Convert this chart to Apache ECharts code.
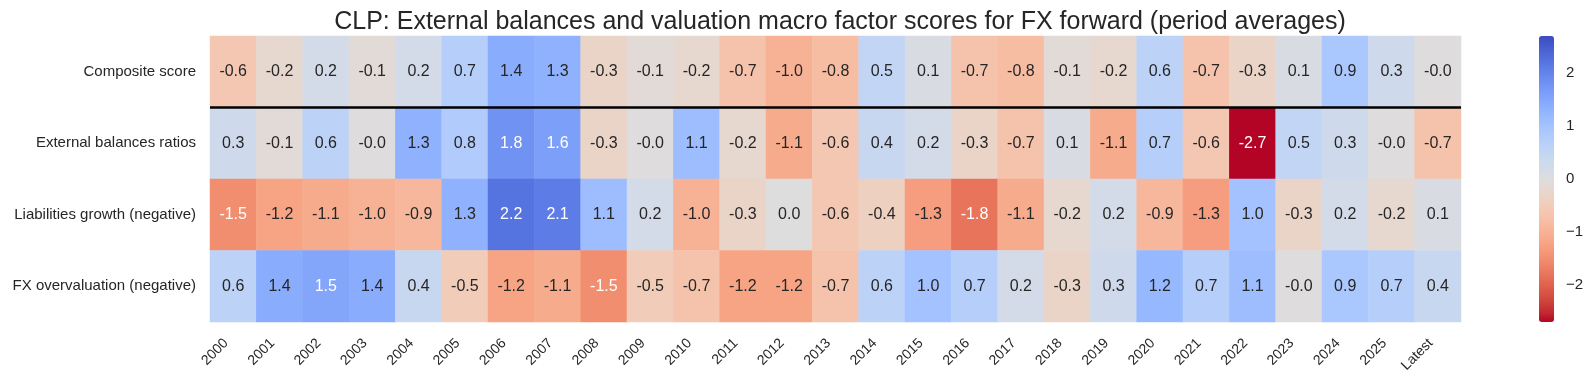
<!DOCTYPE html>
<html>
<head>
<meta charset="utf-8">
<script src="https://cdn.jsdelivr.net/npm/echarts@6/dist/echarts.min.js"></script>
<style>
html,body{margin:0;padding:0;background:#fff;}
#c{width:1594px;height:384px;}
</style>
</head>
<body>
<div id="c"></div>
<script>
const years = ['2000','2001','2002','2003','2004','2005','2006','2007','2008','2009','2010','2011','2012','2013','2014','2015','2016','2017','2018','2019','2020','2021','2022','2023','2024','2025','Latest'];
const rows = ['Composite score','External balances ratios','Liabilities growth (negative)','FX overvaluation (negative)'];
const composite   = [-0.6,-0.2,0.2,-0.1,0.2,0.7,1.4,1.3,-0.3,-0.1,-0.2,-0.7,-1.0,-0.8,0.5,0.1,-0.7,-0.8,-0.1,-0.2,0.6,-0.7,-0.3,0.1,0.9,0.3,-0.02];
const external    = [0.3,-0.1,0.6,-0.02,1.3,0.8,1.8,1.6,-0.3,-0.02,1.1,-0.2,-1.1,-0.6,0.4,0.2,-0.3,-0.7,0.1,-1.1,0.7,-0.6,-2.69,0.5,0.3,-0.02,-0.7];
const liabilities = [-1.5,-1.2,-1.1,-1.0,-0.9,1.3,2.2,2.1,1.1,0.2,-1.0,-0.3,0.0,-0.6,-0.4,-1.3,-1.8,-1.1,-0.2,0.2,-0.9,-1.3,1.0,-0.3,0.2,-0.2,0.1];
const fxOver      = [0.6,1.4,1.5,1.4,0.4,-0.5,-1.2,-1.1,-1.5,-0.5,-0.7,-1.2,-1.2,-0.7,0.6,1.0,0.7,0.2,-0.3,0.3,1.2,0.7,1.1,-0.02,0.9,0.7,0.4];
const colorbarTicks = [-2,-1,0,1,2];
const vmin = -2.69, vmax = 2.69;

// coolwarm control points (matplotlib), reversed for coolwarm_r
const coolwarm = [[59,76,192],[68,90,204],[77,104,215],[87,117,225],[98,130,234],[108,142,241],[119,154,247],[130,165,251],[141,176,254],[152,185,255],[163,194,255],[174,201,253],[184,208,249],[194,213,244],[204,217,238],[213,219,230],[221,221,221],[229,216,209],[236,211,197],[241,204,185],[245,196,173],[247,187,160],[247,177,148],[247,166,135],[244,154,123],[241,141,111],[236,127,99],[229,112,88],[222,96,77],[213,80,66],[203,62,56],[192,40,47],[180,4,38]];
const cmapR = coolwarm.slice().reverse(); // index 0 = low (red)
function cmap(v){
  let t = (v - vmin)/(vmax - vmin); t = Math.max(0, Math.min(1, t));
  const p = t*(cmapR.length-1); const i = Math.min(Math.floor(p), cmapR.length-2); const f = p - i;
  return cmapR[i].map((c,k)=> c + (cmapR[i+1][k]-c)*f);
}
function lum(rgb){
  const l = rgb.map(c=>{c/=255; return c<=0.03928? c/12.92 : Math.pow((c+0.055)/1.055,2.4);});
  return 0.2126*l[0]+0.7152*l[1]+0.0722*l[2];
}
const series = [composite, external, liabilities, fxOver];
const data = [];
series.forEach((arr, r) => arr.forEach((v, c) => {
  const dark = lum(cmap(v)) < 0.408;
  data.push({value:[c, r, v], label:{color: dark ? '#ffffff' : '#262626'}});
}));
const font = 'Liberation Sans, Arial, sans-serif';
const chart = echarts.init(document.getElementById('c'), null, {renderer:'canvas'});
const GRID = {left:210, right:133, top:36, bottom:62};
chart.setOption({
  animation:false,
  backgroundColor:'#ffffff',
  title:{text:'CLP: External balances and valuation macro factor scores for FX forward (period averages)', left:835, textAlign:'center', top:5, textStyle:{fontFamily:font, fontSize:25, fontWeight:'normal', color:'#262626'}},
  grid:[GRID, {left:1539, width:15, top:36, bottom:62}],
  xAxis:[
    {type:'category', data:years, gridIndex:0, axisLine:{show:false}, axisTick:{show:false}, splitLine:{show:false},
     axisLabel:{rotate:45, interval:0, fontFamily:font, fontSize:14, color:'#262626', margin:12, padding:[0,10,0,0]}},
    {type:'value', gridIndex:1, show:false, min:0, max:1}
  ],
  yAxis:[
    {type:'category', data:rows, inverse:true, gridIndex:0, axisLine:{show:false}, axisTick:{show:false}, splitLine:{show:false},
     axisLabel:{fontFamily:font, fontSize:15, color:'#262626', margin:14}},
    {type:'value', gridIndex:1, position:'right', min:vmin, max:vmax, interval:1,
     axisLine:{show:true, lineStyle:{color:'rgba(0,0,0,0)'}}, splitLine:{show:false},
     axisTick:{show:true, length:7, lineStyle:{color:'#3a3a3a', width:1.5},
       customValues: colorbarTicks},
     axisLabel:{fontFamily:font, fontSize:15, color:'#262626', margin:12, customValues: colorbarTicks,
       formatter:v=> (v<0? '\u2212'+Math.abs(v) : String(v))}}
  ],
  visualMap:{type:'continuous', min:vmin, max:vmax, calculable:false, seriesIndex:0,
    orient:'vertical', left:1539, top:36, itemWidth:15, itemHeight:286, padding:0, text:null, showLabel:false,
    inRange:{color: cmapR.map(c=>'rgb('+c.join(',')+')')}},
  series:[{
    type:'heatmap', xAxisIndex:0, yAxisIndex:0, data:data,
    label:{show:true, fontFamily:font, fontSize:16, formatter:p=>p.value[2].toFixed(1)},
    itemStyle:{borderWidth:0},
    emphasis:{disabled:true}
  }]
});
// separator line between composite row and the rest
const y0 = chart.convertToPixel({gridIndex:0}, [0, 0])[1];
const y1 = chart.convertToPixel({gridIndex:0}, [0, 1])[1];
const yb = (y0 + y1)/2;
chart.setOption({graphic:[{type:'line', z:100, shape:{x1:GRID.left, y1:yb, x2:1594-GRID.right, y2:yb}, style:{stroke:'#000', lineWidth:2.7}}]});
</script>
</body>
</html>
